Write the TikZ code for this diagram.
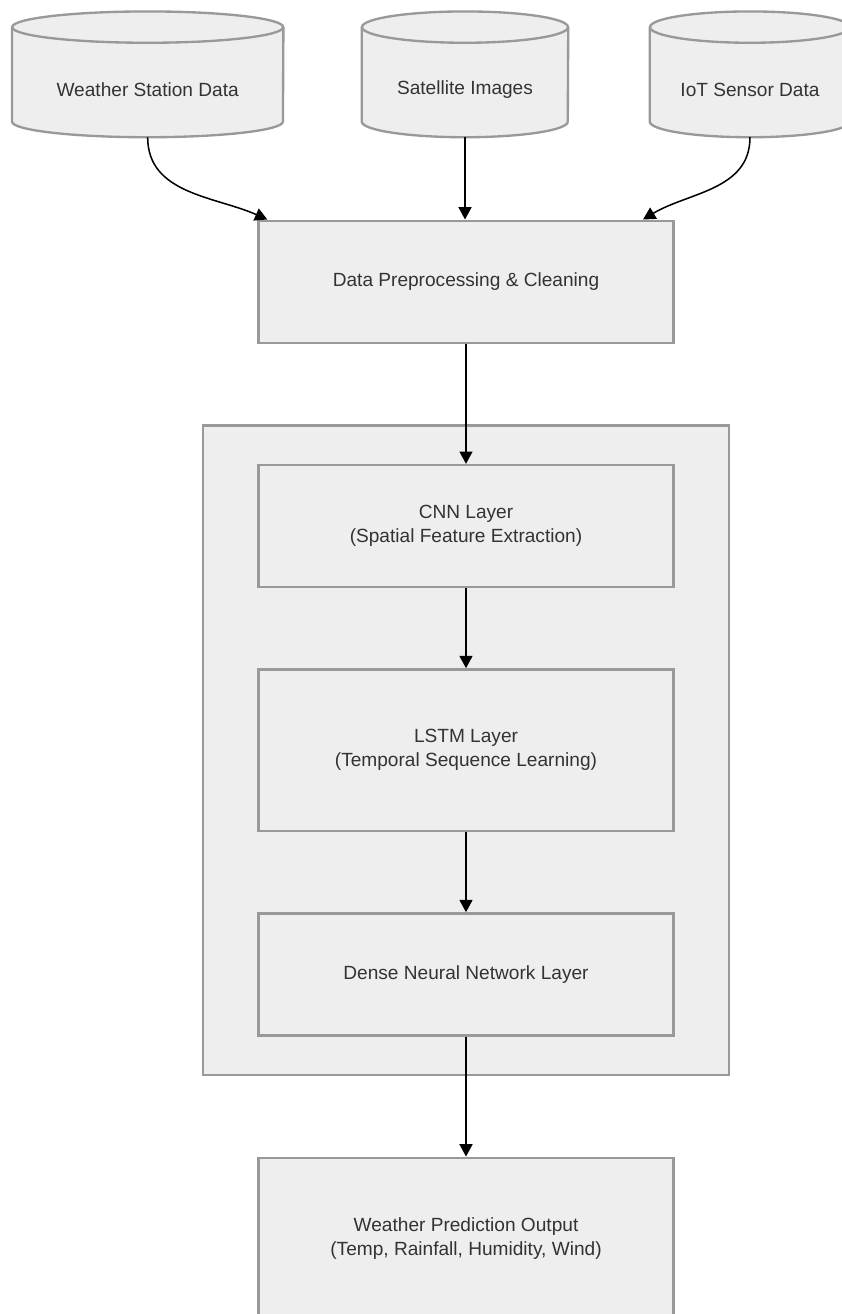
\documentclass[tikz,border=0pt]{standalone}
\usepackage{fontspec}
\setmainfont{Liberation Sans}
\usetikzlibrary{arrows.meta, positioning, fit, backgrounds}
\definecolor{colour_fill}{HTML}{EEEEEE}
\definecolor{colour_edge}{HTML}{999999}
\definecolor{colour_text}{HTML}{333333}

% cylinder outline round a (text) node: #1 node name, #2 half width
\newcommand{\drawstore}[2]{%
   \fill[colour_fill] ([yshift=0.47cm]#1.north west) -- ([yshift=0.47cm]#1.south west)
      arc[start angle=180, end angle=360, x radius=#2, y radius=0.47cm]
      -- ([yshift=0.47cm]#1.north east)
      arc[start angle=0, end angle=180, x radius=#2, y radius=0.47cm] -- cycle;
   \draw[store line] ([yshift=0.47cm]#1.north west) -- ([yshift=0.47cm]#1.south west)
      arc[start angle=180, end angle=360, x radius=#2, y radius=0.47cm]
      -- ([yshift=0.47cm]#1.north east);
   \draw[store line] ([yshift=0.47cm]#1.north) ellipse[x radius=#2, y radius=0.47cm];
}

\begin{document}
\begin{tikzpicture}
   [
      store/.style={rectangle, minimum height=2.82cm, inner sep=0pt, text=colour_text,
                    font=\fontsize{16.3}{20.5}\selectfont},
      store line/.style={line width=2pt, draw=colour_edge},
      layer/.style={rectangle, draw=colour_edge, fill=colour_fill, line width=2pt,
                    minimum width=12.45cm, minimum height=3.66cm, align=center,
                    text=colour_text, font=\fontsize{16.3}{20.5}\selectfont},
      tall layer/.style={layer, minimum height=4.85cm},
      group box/.style={rectangle, draw=colour_edge, fill=colour_fill, line width=2pt},
      flow/.style={-{Triangle[length=0.37cm, width=0.39cm]}, line width=1.3pt, black},
      node distance=2.4cm
   ]

   \useasboundingbox (0,0) rectangle (25.26,-39.42);

   % =======================================================
   % Data sources
   % =======================================================

   \node[store, minimum width=8.13cm] (weather) at (4.43,-2.7) {Weather Station Data};
   \node[store, minimum width=6.18cm] (satellite) at (13.95,-2.7) {Satellite Images};
   \node[store, minimum width=6.0cm] (iot) at (22.5,-2.7) {IoT Sensor Data};

   % =======================================================
   % Pipeline
   % =======================================================

   \node[layer] (preproc) at (13.98,-8.45) {Data Preprocessing \& Cleaning};
   \node[layer, below=3.6cm of preproc] (cnn) {CNN Layer\\(Spatial Feature Extraction)};
   \node[tall layer, below=of cnn] (lstm) {LSTM Layer\\(Temporal Sequence Learning)};
   \node[layer, below=of lstm] (dense) {Dense Neural Network Layer};
   \node[tall layer, below=3.6cm of dense] (output)
      {Weather Prediction Output\\(Temp, Rainfall, Humidity, Wind)};

   % model container and cylinders behind
   \begin{scope}[on background layer]
      \node[group box, fit=(cnn)(lstm)(dense), inner xsep=1.63cm, inner ysep=1.15cm] (model) {};
      \drawstore{weather}{4.065cm}
      \drawstore{satellite}{3.09cm}
      \drawstore{iot}{3.0cm}
   \end{scope}

   % =======================================================
   % Arrows
   % =======================================================

   \draw[flow] (weather.south) to[out=-90, in=156] ([xshift=0.3cm]preproc.north west);
   \draw[flow] (satellite.south) -- (satellite.south |- preproc.north);
   \draw[flow] (iot.south) to[out=-90, in=31] ([xshift=-0.95cm]preproc.north east);

   \draw[flow] (preproc) -- (cnn);
   \draw[flow] (cnn) -- (lstm);
   \draw[flow] (lstm) -- (dense);
   \draw[flow] (dense) -- (output);

\end{tikzpicture}
\end{document}
